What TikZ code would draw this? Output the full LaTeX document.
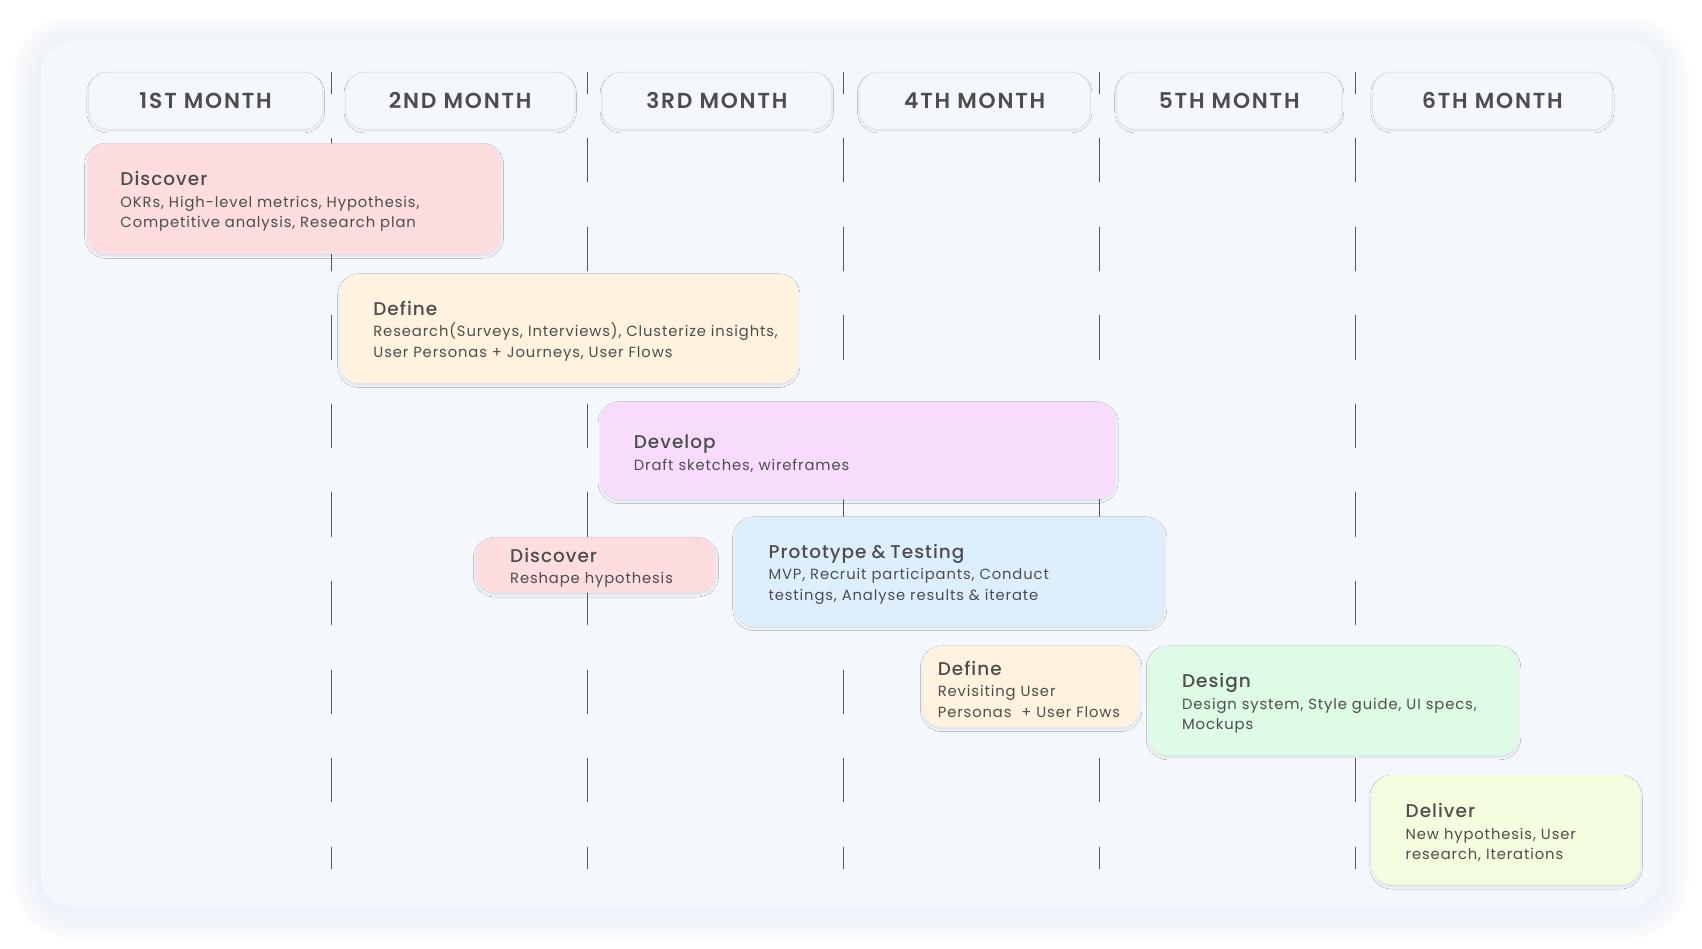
\documentclass[tikz,border=0pt]{standalone}
\usepackage{fontspec}
\setmainfont{Poppins}
\newfontfamily\hfont{Poppins SemiBold}[LetterSpace=8.5]
\newfontfamily\tfont{Poppins Medium}[LetterSpace=5.5]
\newfontfamily\dfont{Poppins}[LetterSpace=6]
\usetikzlibrary{shadows.blur}
\definecolor{panel}{HTML}{F4F8FD}
\definecolor{glow}{HTML}{E3EBFA}
\definecolor{txt}{HTML}{4D4D4D}
\definecolor{hdrline}{HTML}{E1E5EA}
\definecolor{gridc}{HTML}{555555}
\definecolor{cpink}{HTML}{FDDDDD}
\definecolor{ccream}{HTML}{FFF2DF}
\definecolor{clav}{HTML}{F8DCFC}
\definecolor{cblue}{HTML}{DDEFFD}
\definecolor{cmint}{HTML}{DEFCE5}
\definecolor{cyel}{HTML}{F4FDDD}
\tikzset{
  hdr/.style={draw=hdrline, line width=0.9pt, fill=panel, rounded corners=18pt,
    anchor=north west, minimum height=53pt, inner sep=0pt, text=txt,
    font=\hfont\fontsize{20}{24}\selectfont,
    blur shadow={shadow xshift=0pt, shadow yshift=-1.5pt, shadow blur radius=1.5pt, shadow opacity=6}},
  task/.style={rounded corners=18pt, anchor=north west, align=left,
    inner xsep=31pt, inner ysep=0pt, outer sep=0pt, text=txt,
    font=\dfont\fontsize{13.6}{19.2}\selectfont,
    blur shadow={shadow xshift=0pt, shadow yshift=-2pt, shadow blur radius=2pt, shadow opacity=10}},
  gridline/.style={gridc, line width=0.9pt, dash pattern=on 40.8pt off 40.8pt, dash phase=20.4pt}
}
\newcommand{\ttl}[1]{{\tfont\fontsize{17}{20}\selectfont\rule{0pt}{18.5pt}#1}\\[0.5pt]}
\newcommand{\tln}[1]{\mbox{#1}}
\begin{document}
\begin{tikzpicture}[x=1pt,y=-1pt]
\useasboundingbox (0,0) rectangle (1568,874);
\fill[white] (0,0) rectangle (1568,874);
% panel glow
\foreach \i in {1,...,12}{
  \fill[glow, opacity=0.06, rounded corners={30pt+\i*2pt}] (38-\i*2.2,38-\i*2.2+3) rectangle (1530+\i*2.2,836+\i*2.2+3);
}
\fill[panel, rounded corners=30pt] (38,38) rectangle (1530,836);
% grid lines
\foreach \x/\n in {305/a,541/b,777/c,1013/d,1249/e}{
  \coordinate (t\n) at (\x,66);
  \coordinate (b\n) at (\x,801);
  \draw[gridline] (t\n) -- (b\n);
}
% headers
\node[hdr, minimum width=216pt] (h1) at (81,66) {1ST MONTH};
\node[hdr, minimum width=211pt] (h2) at (318,66) {2ND MONTH};
\node[hdr, minimum width=212pt] (h3) at (554,66) {3RD MONTH};
\node[hdr, minimum width=213pt] (h4) at (791,66) {4TH MONTH};
\node[hdr, minimum width=208pt] (h5) at (1028,66) {5TH MONTH};
\node[hdr, minimum width=221pt] (h6) at (1264,66) {6TH MONTH};
% tasks
\node[task, fill=cpink, minimum width=382pt, minimum height=102pt, text width=320pt] (discover) at (80,132)
  {\ttl{Discover}\tln{OKRs, High-level metrics, Hypothesis,}\\\tln{Competitive analysis, Research plan}};
\node[task, fill=ccream, minimum width=422pt, minimum height=101pt, text width=360pt] (define) at (313,252)
  {\ttl{Define}\tln{Research(Surveys, Interviews), Clusterize insights,}\\\tln{User Personas + Journeys, User Flows}};
\node[task, fill=clav, minimum width=475pt, minimum height=90pt, text width=413pt] (develop) at (553,370)
  {\ttl{Develop}\tln{Draft sketches, wireframes}};
\node[task, fill=cpink, minimum width=222pt, minimum height=51pt, text width=158pt, inner xsep=32pt] (discover2) at (438,495)
  {\ttl{Discover}\tln{Reshape hypothesis}};
\node[task, fill=cblue, minimum width=396pt, minimum height=101pt, text width=334pt] (proto) at (677,476)
  {\ttl{Prototype \& Testing}\tln{MVP, Recruit participants, Conduct}\\\tln{testings, Analyse results \& iterate}};
\node[task, fill=ccream, minimum width=200pt, minimum height=75pt, text width=172pt, inner xsep=14pt] (define2) at (850,595)
  {\ttl{Define}\tln{Revisiting User}\\\tln{Personas\ \ + User Flows}};
\node[task, fill=cmint, minimum width=341pt, minimum height=101pt, text width=279pt] (design) at (1058,595)
  {\ttl{Design}\tln{Design system, Style guide, UI specs,}\\\tln{Mockups}};
\node[task, fill=cyel, minimum width=247pt, minimum height=101pt, text width=185pt] (deliver) at (1264,714)
  {\ttl{Deliver}\tln{New hypothesis, User}\\\tln{research, Iterations}};
\end{tikzpicture}
\end{document}
